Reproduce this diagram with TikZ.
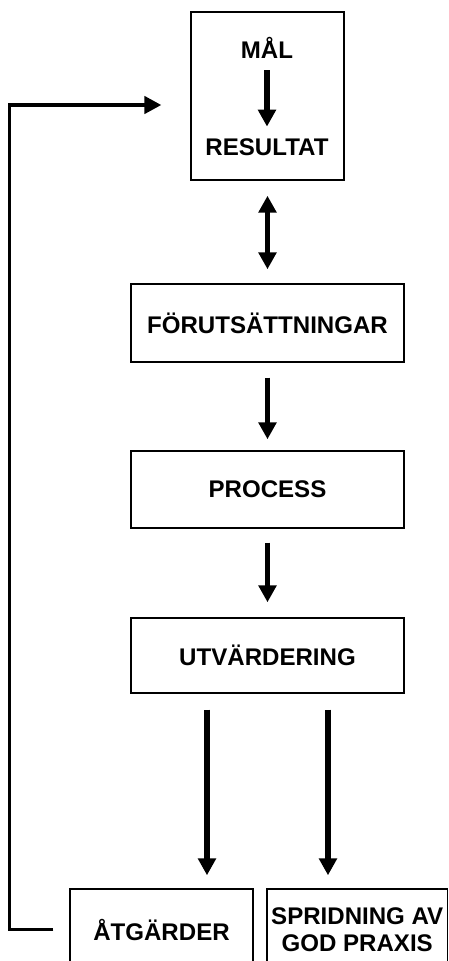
\documentclass[tikz,border=0pt]{standalone}
\usepackage{fontspec}
\setmainfont{Liberation Sans}
\usetikzlibrary{arrows.meta}

\begin{document}
\begin{tikzpicture}[x=0.02cm,y=-0.02cm,>={Triangle[width=0.35cm,length=0.34cm]},
            box/.style={shape=rectangle,draw=black,line width=0.85pt,align=center,inner sep=1pt,
              font=\fontsize{13.7}{15.3}\selectfont\bfseries},
            lbl/.style={inner sep=0pt,text height=0.75em,text depth=0pt,
              font=\fontsize{13.7}{15.3}\selectfont\bfseries},
            flow/.style={->,line width=3pt}]
            \path[use as bounding box,clip](0,0)rectangle(449,961);
            \node[box,minimum width=3.06cm,minimum height=3.36cm](resbox)at(267.5, 96){};
            \node[lbl](mal)at(267, 51.5){MÅL};
            \node[lbl](res)at(267, 149){RESULTAT};
            \node[box,minimum width=5.46cm,minimum height=1.56cm](forut)at(267.5, 323){FÖRUTSÄTTNINGAR};
            \node[box,minimum width=5.46cm,minimum height=1.54cm](process)at(267.5, 489.5){PROCESS};
            \node[box,minimum width=5.46cm,minimum height=1.5cm](utv)at(267.5, 655.5){UTVÄRDERING};
            \node[box,minimum width=3.66cm,minimum height=1.62cm](atg)at(161.5, 929.5){ÅTGÄRDER};
            \node[box,minimum width=3.61cm,minimum height=1.62cm](spr)at(357.25, 929.5){SPRIDNING AV\\GOD PRAXIS};
            \coordinate(lft)at(207, 0);
            \coordinate(rgt)at(328, 0);
            \path[flow](mal) edge[shorten <=0.24cm,shorten >=0.31cm] (res)
            (resbox) edge[<->,shorten <=0.3cm,shorten >=0.28cm] (forut)
            (forut) edge[shorten <=0.3cm,shorten >=0.22cm] (process)
            (process) edge[shorten <=0.28cm,shorten >=0.3cm] (utv);
            \draw[flow,shorten <=0.32cm,shorten >=0.26cm](utv.south -| lft) -- (atg.north -| lft);
            \draw[flow,shorten <=0.32cm,shorten >=0.26cm](utv.south -| rgt) -- (spr.north -| rgt);
            \draw[->,line width=1.9pt,shorten <=0.32cm,shorten >=0.58cm](atg.west) -- ++(-60,0) |- ([yshift=-0.18cm]resbox.west);
        \end{tikzpicture}
\end{document}
